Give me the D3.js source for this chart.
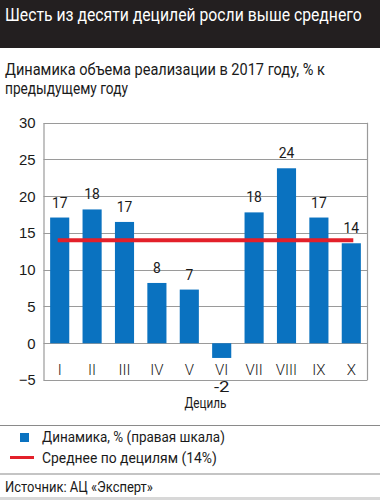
<!DOCTYPE html>
<html>
<meta charset="utf-8">
<head>
<script src="https://d3js.org/d3.v7.min.js"></script>
<title>deciles</title>
<style>
html, body {
	margin: 0;
	padding: 0;
	background: #fff;
}
svg {
	display: block;
	font-family: 'Roboto', 'Liberation Sans', sans-serif;
}
</style>
</head>
<body>
<svg></svg>
<script>
var width = 380;
var height = 500;

// data
var deciles = ["I", "II", "III", "IV", "V", "VI", "VII", "VIII", "IX", "X"];
var growth = [17.1, 18.2, 16.5, 8.2, 7.3, -2.0, 17.8, 23.8, 17.1, 13.6];
var growthLabels = ["17", "18", "17", "8", "7", "-2", "18", "24", "17", "14"];
var average = 14;
var yTicks = [-5, 0, 5, 10, 15, 20, 25, 30];

var blue = "#0a72c0";
var red = "#e3202a";
var grid = "#9a9a9a";
var ink = "#1a1a1a";

var svg = d3.select("svg")
	.attr("width", width)
	.attr("height", height);

// text squeezed horizontally to the width it has in the picture (condensed face)
function label(x0, y0, size, str, len, anchor) {
	var t = svg.append("text")
		.attr("fill", ink)
		.style("font-size", size + "px")
		.text(str);
	var w = t.node().getComputedTextLength();
	var sx = len ? len / w : 1;
	var dx = anchor === "middle" ? -w * sx / 2 : 0;
	t.attr("transform", "translate(" + (x0 + dx) + "," + y0 + ") scale(" + sx + ",1)");
	return t;
}

// header
svg.append("rect")
	.attr("width", width)
	.attr("height", 48)
	.attr("fill", "#231f20");
label(5, 21, 18.5, "Шесть из десяти децилей росли выше среднего", 357)
	.attr("fill", "#fff");

label(5, 75, 16.5, "Динамика объема реализации в 2017 году, % к", 320);
label(5, 94, 16.5, "предыдущему году", 123);

// plot
var plot = {left: 43.5, right: 367.5, top: 122.7, bottom: 380};

var x = d3.scaleBand()
	.domain(deciles)
	.range([plot.left, plot.right])
	.paddingInner(0.41)
	.paddingOuter(0.205);

var y = d3.scaleLinear()
	.domain([-5, 30])
	.range([plot.bottom, plot.top]);

// gridlines
svg.append("g")
	.selectAll("line")
	.data(yTicks)
	.enter().append("line")
		.attr("x1", plot.left)
		.attr("x2", plot.right)
		.attr("y1", function(d) { return Math.round(y(d)) + 0.5; })
		.attr("y2", function(d) { return Math.round(y(d)) + 0.5; })
		.attr("stroke", grid)
		.attr("stroke-width", 1.2);

// y axis
var yAxis = svg.append("g")
	.attr("transform", "translate(" + plot.left + ",0)")
	.call(d3.axisLeft(y).tickValues(yTicks).tickSize(0).tickPadding(8));
yAxis.select(".domain")
	.attr("stroke", grid)
	.attr("stroke-width", 1.2);
yAxis.selectAll("text")
	.style("font-family", "inherit")
	.style("font-size", "15px")
	.attr("fill", ink)
	.attr("textLength", function(d) { return String(d).length * 8.3; })
	.attr("lengthAdjust", "spacingAndGlyphs");

// right border
svg.append("line")
	.attr("x1", plot.right)
	.attr("x2", plot.right)
	.attr("y1", y(30))
	.attr("y2", y(-5))
	.attr("stroke", grid)
	.attr("stroke-width", 1.2);

// bars
svg.append("g")
	.selectAll("rect")
	.data(growth)
	.enter().append("rect")
		.attr("x", function(d, i) { return x(deciles[i]); })
		.attr("y", function(d) { return y(Math.max(0, d)); })
		.attr("width", x.bandwidth())
		.attr("height", function(d) { return Math.abs(y(d) - y(0)); })
		.attr("fill", blue);

// value labels
svg.append("g")
	.selectAll("text")
	.data(growth)
	.enter().append("text")
		.attr("x", function(d, i) { return x(deciles[i]) + x.bandwidth() / 2; })
		.attr("y", function(d) { return d >= 0 ? y(d) - 10 : y(-5) + 12; })
		.attr("text-anchor", "middle")
		.attr("fill", ink)
		.style("font-size", "15px")
		.attr("textLength", function(d, i) { return growthLabels[i].length * 7.8; })
		.attr("lengthAdjust", "spacingAndGlyphs")
		.text(function(d, i) { return growthLabels[i]; });

// decile labels inside plot, below zero
svg.append("g")
	.selectAll("text")
	.data(deciles)
	.enter().append("text")
		.attr("x", function(d) { return x(d) + x.bandwidth() / 2; })
		.attr("y", 375)
		.attr("text-anchor", "middle")
		.attr("fill", ink)
		.style("font-size", "15px")
		.style("font-weight", 300)
		.text(function(d) { return d; });

label((plot.left + plot.right) / 2, 408, 14.5, "Дециль", 42, "middle");

// average line
svg.append("line")
	.attr("x1", x(deciles[0]) + x.bandwidth() / 2 - 2)
	.attr("x2", x(deciles[9]) + x.bandwidth() / 2 + 2)
	.attr("y1", y(average))
	.attr("y2", y(average))
	.attr("stroke", red)
	.attr("stroke-width", 4);

// legend
svg.append("line")
	.attr("x1", 0).attr("x2", width)
	.attr("y1", 425.5).attr("y2", 425.5)
	.attr("stroke", "#8a8a8a")
	.attr("stroke-width", 1.2);
svg.append("rect")
	.attr("x", 20).attr("y", 433)
	.attr("width", 9).attr("height", 9)
	.attr("fill", blue);
label(42, 442, 15, "Динамика, % (правая шкала)", 183);
svg.append("line")
	.attr("x1", 10).attr("x2", 34)
	.attr("y1", 457.5).attr("y2", 457.5)
	.attr("stroke", red)
	.attr("stroke-width", 3);
label(42, 463, 15, "Среднее по децилям (14%)", 175);
svg.append("line")
	.attr("x1", 0).attr("x2", width)
	.attr("y1", 474).attr("y2", 474)
	.attr("stroke", "#8a8a8a")
	.attr("stroke-width", 1.2);
label(5, 492, 14.5, "Источник: АЦ «Эксперт»", 148);
svg.append("rect")
	.attr("x", 0).attr("y", 497)
	.attr("width", width).attr("height", 3)
	.attr("fill", "#d8d8d8");
</script>
</body>
</html>
